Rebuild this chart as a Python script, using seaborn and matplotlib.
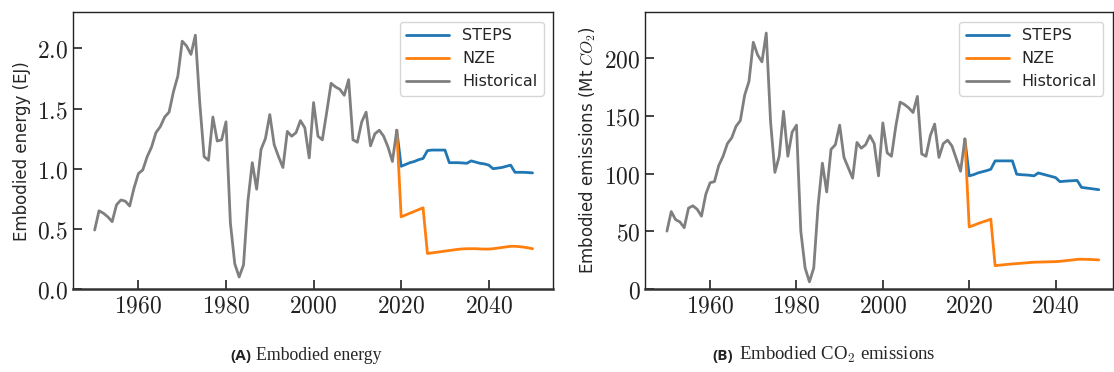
import pandas as pd
import matplotlib
matplotlib.use("Agg")
import matplotlib.pyplot as plt
from matplotlib.ticker import FuncFormatter
import seaborn as sns

# Historical series, one value per year 1950-2019
hist_years = list(range(1950, 2020))
hist_energy = [0.49, 0.65, 0.63, 0.60, 0.56, 0.70, 0.74, 0.73, 0.69, 0.84,
               0.96, 0.99, 1.10, 1.18, 1.30, 1.35, 1.43, 1.47, 1.64, 1.77,
               2.06, 2.02, 1.95, 2.11, 1.55, 1.10, 1.07, 1.43, 1.23, 1.24,
               1.39, 0.55, 0.21, 0.10, 0.20, 0.73, 1.05, 0.83, 1.16, 1.25,
               1.45, 1.20, 1.10, 1.01, 1.31, 1.27, 1.30, 1.40, 1.34, 1.09,
               1.55, 1.27, 1.24, 1.47, 1.71, 1.68, 1.66, 1.61, 1.74, 1.24,
               1.22, 1.39, 1.47, 1.19, 1.29, 1.32, 1.27, 1.18, 1.06, 1.32]
hist_co2 = [50, 67, 60, 58, 53, 70, 72, 69, 63, 82,
            92, 93, 107, 115, 126, 131, 141, 146, 168, 180,
            214, 203, 197, 222, 145, 101, 115, 154, 115, 136,
            142, 50, 18, 6, 18, 72, 109, 84, 121, 125,
            142, 114, 105, 96, 127, 122, 125, 133, 126, 98,
            144, 118, 115, 141, 162, 160, 157, 153, 167, 117,
            115, 133, 143, 114, 126, 129, 124, 113, 102, 130]

# Scenario series, one value per year 2020-2050
scen_years = list(range(2020, 2051))
steps_energy = [1.02, 1.035, 1.05, 1.06, 1.075, 1.085, 1.15, 1.155, 1.155, 1.155,
                1.155, 1.05, 1.05, 1.05, 1.048, 1.045, 1.065, 1.055, 1.045, 1.04,
                1.03, 1.00, 1.005, 1.01, 1.02, 1.03, 0.97, 0.97, 0.97, 0.968, 0.965]
nze_energy = [0.60, 0.615, 0.63, 0.645, 0.66, 0.675, 0.295, 0.30, 0.305, 0.31,
              0.315, 0.32, 0.325, 0.33, 0.333, 0.335, 0.335, 0.335, 0.333, 0.332,
              0.332, 0.335, 0.34, 0.345, 0.35, 0.355, 0.355, 0.352, 0.348, 0.342, 0.335]
steps_co2 = [98, 99, 100.5, 101.5, 102.5, 103.7, 111, 111, 111, 111,
             111, 99.4, 99, 98.8, 98.5, 98, 100.5, 99.5, 98.5, 97.5,
             96.5, 93, 93.3, 93.6, 93.8, 94, 88, 87.5, 87, 86.5, 86]
nze_co2 = [53.7, 55, 56.5, 57.8, 59, 60.4, 20, 20.4, 20.8, 21.2,
           21.5, 21.8, 22.1, 22.4, 22.7, 23, 23.1, 23.2, 23.3, 23.4,
           23.5, 23.8, 24.2, 24.6, 25, 25.5, 25.6, 25.5, 25.4, 25.2, 25]

scenarios = ["STEPS", "NZE", "Historical"]
colors = {"STEPS": "#1f77b4", "NZE": "#ff7f0e", "Historical": "#7f7f7f"}


def long_table(hist, steps, nze):
    # scenario lines start from the last historical point
    rows = []
    for y, v in zip(hist_years, hist):
        rows.append((y, v, "Historical"))
    for name, vals in (("STEPS", steps), ("NZE", nze)):
        rows.append((hist_years[-1], hist[-1], name))
        for y, v in zip(scen_years, vals):
            rows.append((y, v, name))
    return pd.DataFrame(rows, columns=["year", "value", "scenario"])


sns.set_style("white")
plt.rcParams["mathtext.fontset"] = "cm"
plt.rcParams["font.family"] = ["DejaVu Sans"]

fig = plt.figure(figsize=(11.14, 3.72), dpi=100)
ax1 = fig.add_axes([0.0653, 0.2231, 0.4312, 0.7438])
ax2 = fig.add_axes([0.5793, 0.2239, 0.4198, 0.7430])

panels = [
    (ax1, long_table(hist_energy, steps_energy, nze_energy),
     "Embodied energy (EJ)", (0, 2.3), (1945, 2054.7), "{:.1f}"),
    (ax2, long_table(hist_co2, steps_co2, nze_co2),
     "Embodied emissions (Mt $CO_2$)", (0, 240), (1945, 2053.3), "{:.0f}"),
]

for ax, df, ylab, ylim, xlim, fmt in panels:
    sns.lineplot(data=df, x="year", y="value", hue="scenario",
                 hue_order=scenarios, palette=colors, linewidth=2, ax=ax)
    ax.set_xlim(*xlim)
    ax.set_ylim(*ylim)
    ax.set_xlabel("")
    ax.set_ylabel(ylab, fontsize=12)
    ax.set_xticks([1960, 1980, 2000, 2020, 2040])
    ax.xaxis.set_major_formatter(FuncFormatter(lambda v, p: "${:.0f}$".format(v)))
    ax.yaxis.set_major_formatter(FuncFormatter(lambda v, p, f=fmt: "$" + f.format(v) + "$"))
    ax.tick_params(direction="in", length=6.5, width=1.2, labelsize=17,
                   bottom=True, left=True, top=False, right=False, colors="#222222")
    for side in ["top", "right", "left"]:
        ax.spines[side].set_linewidth(1.0)
        ax.spines[side].set_color("#222222")
    ax.spines["bottom"].set_linewidth(1.8)
    ax.spines["bottom"].set_color("#333333")
    handles, labels = ax.get_legend_handles_labels()
    ax.legend(handles, labels, loc="upper right", fontsize=11.5,
              handlelength=2.7, borderaxespad=0.6)

# sub-captions
cap_y = 0.032
fig.text(230 / 1114, cap_y, "(A)", fontsize=11, fontweight="bold",
         family="Open Sans", ha="left", va="baseline", color="#222222")
fig.text(256 / 1114, cap_y, "Embodied energy", fontsize=12.8,
         family="Liberation Serif", ha="left", va="baseline")
fig.text(712 / 1114, cap_y, "(B)", fontsize=11, fontweight="bold",
         family="Open Sans", ha="left", va="baseline", color="#222222")
fig.text(739 / 1114, cap_y, "Embodied CO$_2$ emissions", fontsize=13.5,
         family="Liberation Serif", ha="left", va="baseline")

fig.savefig("out.png", dpi=100)
